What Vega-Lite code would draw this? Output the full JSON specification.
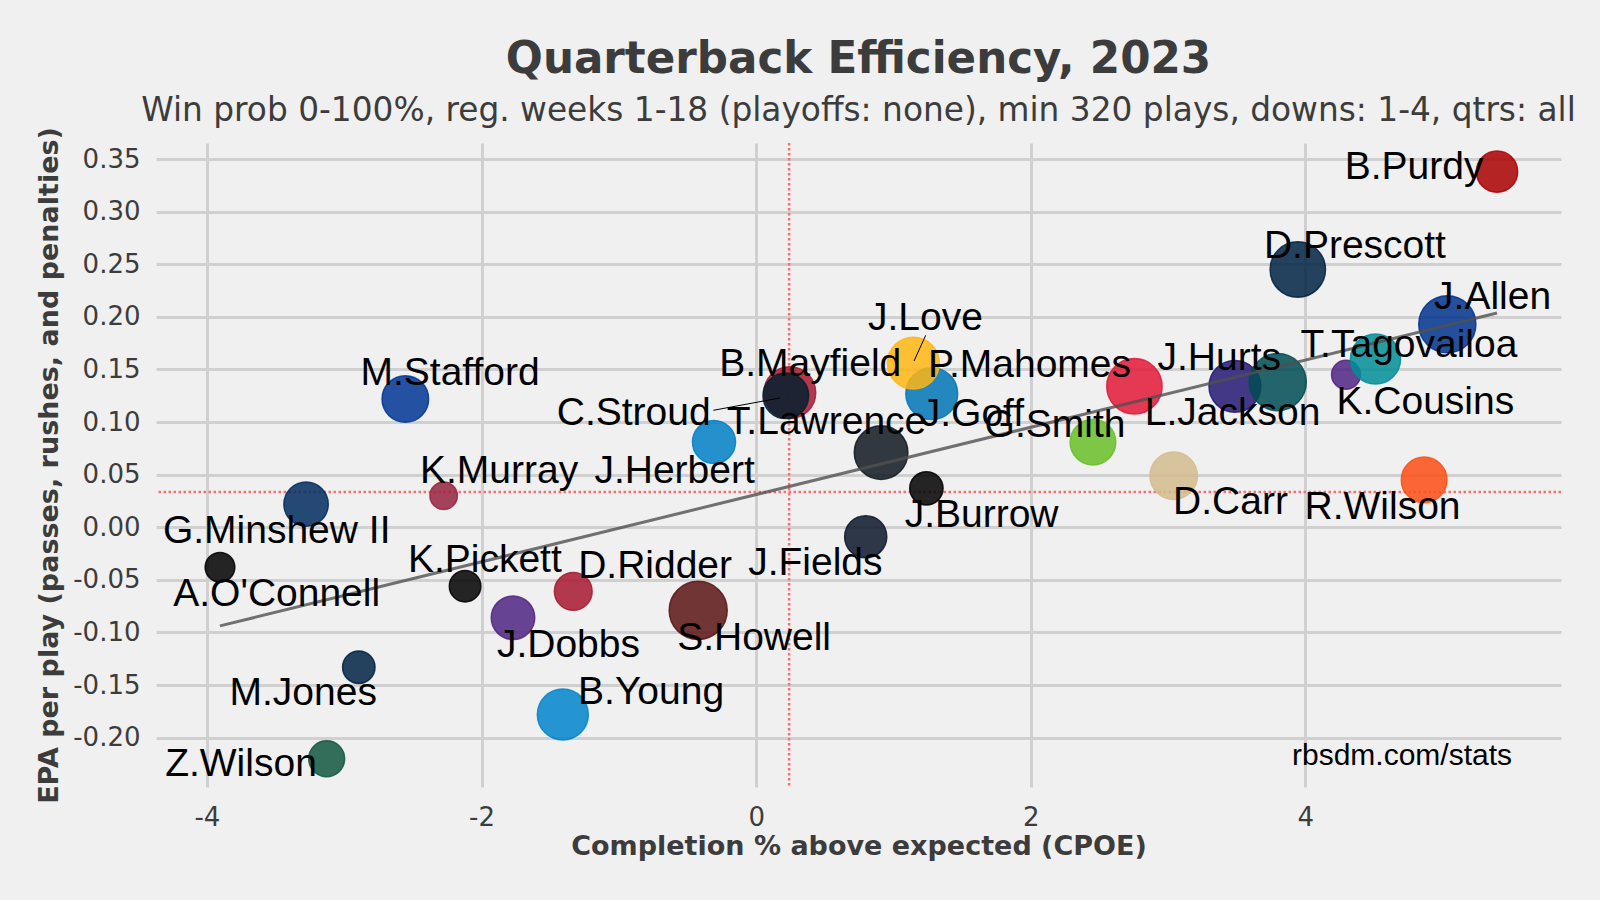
{
  "$schema": "https://vega.github.io/schema/vega-lite/v6.json",
  "width": 1405,
  "height": 644,
  "autosize": {"type": "none"},
  "padding": {"left": 156, "top": 143, "right": 39, "bottom": 113},
  "background": "#F0F0F0",
  "title": {
    "text": "Quarterback Efficiency, 2023",
    "subtitle": "Win prob 0-100%, reg. weeks 1-18 (playoffs: none), min 320 plays, downs: 1-4, qtrs: all",
    "anchor": "middle",
    "font": "DejaVu Sans",
    "fontSize": 43.6,
    "fontWeight": "bold",
    "color": "#3C3C3C",
    "subtitleFont": "DejaVu Sans",
    "subtitleFontSize": 32.8,
    "subtitleColor": "#3C3C3C",
    "subtitlePadding": 12,
    "offset": -2
  },
  "config": {
    "view": {"stroke": null},
    "axisX": {
      "grid": true, "gridColor": "#D0D0D0", "gridWidth": 3,
      "domain": false, "ticks": false,
      "labelFont": "DejaVu Sans", "labelFontSize": 26, "labelColor": "#3C3C3C", "labelPadding": 17,
      "titleFont": "DejaVu Sans", "titleFontSize": 27, "titleFontWeight": "bold", "titleColor": "#3C3C3C", "titlePadding": 3
    },
    "axisY": {
      "grid": true, "gridColor": "#D0D0D0", "gridWidth": 3,
      "domain": false, "ticks": false,
      "labelFont": "DejaVu Sans", "labelFontSize": 26, "labelColor": "#3C3C3C", "labelPadding": 16,
      "titleFont": "DejaVu Sans", "titleFontSize": 27, "titleFontWeight": "bold", "titleColor": "#3C3C3C", "titlePadding": 9
    }
  },
  "datasets": {
    "qb": [
      {"name": "A.O'Connell", "team": "LV", "cpoe": -3.905, "epa": -0.038, "plays": 340, "lx": -3.492, "ly": -0.063},
      {"name": "G.Minshew II", "team": "IND", "cpoe": -3.278, "epa": 0.022, "plays": 508, "lx": -3.492, "ly": -0.0039},
      {"name": "Z.Wilson", "team": "NYJ", "cpoe": -3.128, "epa": -0.220, "plays": 403, "lx": -3.752, "ly": -0.225},
      {"name": "M.Jones", "team": "NE", "cpoe": -2.894, "epa": -0.133, "plays": 366, "lx": -3.299, "ly": -0.158},
      {"name": "M.Stafford", "team": "LA", "cpoe": -2.555, "epa": 0.122, "plays": 539, "lx": -2.229, "ly": 0.1465},
      {"name": "K.Murray", "team": "ARI", "cpoe": -2.276, "epa": 0.030, "plays": 320, "lx": -1.872, "ly": 0.0533},
      {"name": "K.Pickett", "team": "PIT", "cpoe": -2.120, "epa": -0.056, "plays": 357, "lx": -1.976, "ly": -0.031},
      {"name": "J.Dobbs", "team": "MIN", "cpoe": -1.771, "epa": -0.086, "plays": 496, "lx": -1.367, "ly": -0.1115},
      {"name": "B.Young", "team": "CAR", "cpoe": -1.408, "epa": -0.178, "plays": 605, "lx": -0.765, "ly": -0.157},
      {"name": "D.Ridder", "team": "ATL", "cpoe": -1.332, "epa": -0.061, "plays": 424, "lx": -0.736, "ly": -0.0369},
      {"name": "S.Howell", "team": "WAS", "cpoe": -0.422, "epa": -0.079, "plays": 724, "lx": -0.015, "ly": -0.1048},
      {"name": "J.Herbert", "team": "LAC", "cpoe": -0.307, "epa": 0.081, "plays": 490, "lx": -0.594, "ly": 0.0533},
      {"name": "B.Mayfield", "team": "TB", "cpoe": 0.245, "epa": 0.128, "plays": 619, "lx": 0.394, "ly": 0.1552},
      {"name": "C.Stroud", "team": "HOU", "cpoe": 0.216, "epa": 0.125, "plays": 526, "lx": -0.892, "ly": 0.1086},
      {"name": "J.Fields", "team": "CHI", "cpoe": 0.798, "epa": -0.009, "plays": 478, "lx": 0.431, "ly": -0.034},
      {"name": "T.Lawrence", "team": "JAX", "cpoe": 0.910, "epa": 0.071, "plays": 648, "lx": 0.513, "ly": 0.0999},
      {"name": "J.Goff", "team": "DET", "cpoe": 1.279, "epa": 0.127, "plays": 619, "lx": 1.575, "ly": 0.1077},
      {"name": "J.Love", "team": "GB", "cpoe": 1.145, "epa": 0.156, "plays": 619, "lx": 1.233, "ly": 0.1988},
      {"name": "J.Burrow", "team": "CIN", "cpoe": 1.240, "epa": 0.037, "plays": 375, "lx": 1.642, "ly": 0.0116},
      {"name": "G.Smith", "team": "SEA", "cpoe": 2.453, "epa": 0.081, "plays": 526, "lx": 2.177, "ly": 0.097},
      {"name": "P.Mahomes", "team": "KC", "cpoe": 2.755, "epa": 0.134, "plays": 678, "lx": 1.991, "ly": 0.1542},
      {"name": "D.Carr", "team": "NO", "cpoe": 3.041, "epa": 0.049, "plays": 552, "lx": 3.455, "ly": 0.0242},
      {"name": "L.Jackson", "team": "BAL", "cpoe": 3.487, "epa": 0.134, "plays": 619, "lx": 3.470, "ly": 0.1086},
      {"name": "J.Hurts", "team": "PHI", "cpoe": 3.799, "epa": 0.138, "plays": 708, "lx": 3.373, "ly": 0.161},
      {"name": "D.Prescott", "team": "DAL", "cpoe": 3.945, "epa": 0.245, "plays": 678, "lx": 4.361, "ly": 0.2677},
      {"name": "K.Cousins", "team": "MIN", "cpoe": 4.296, "epa": 0.145, "plays": 332, "lx": 4.874, "ly": 0.1193},
      {"name": "T.Tagovailoa", "team": "MIA", "cpoe": 4.511, "epa": 0.160, "plays": 592, "lx": 4.755, "ly": 0.1736},
      {"name": "R.Wilson", "team": "DEN", "cpoe": 4.865, "epa": 0.045, "plays": 526, "lx": 4.562, "ly": 0.0194},
      {"name": "J.Allen", "team": "BUF", "cpoe": 5.034, "epa": 0.193, "plays": 708, "lx": 5.364, "ly": 0.2192},
      {"name": "B.Purdy", "team": "SF", "cpoe": 5.396, "epa": 0.338, "plays": 467, "lx": 4.792, "ly": 0.3424}
    ],
    "means": [{"mean_cpoe": 0.24, "mean_epa": 0.0335}],
    "leaders": [
      {"name": "C.Stroud", "x1": -0.312, "y1": 0.1112, "x2": 0.174, "y2": 0.1229},
      {"name": "J.Love", "x1": 1.235, "y1": 0.1825, "x2": 1.150, "y2": 0.1581}
    ],
    "credit": [{"text": "rbsdm.com/stats", "cx": 4.704, "cy": -0.2177}]
  },
  "layer": [
    {
      "data": {"name": "means"},
      "mark": {"type": "rule", "color": "#FA6E6E", "strokeWidth": 2.5, "strokeDash": [2.5, 2.5]},
      "encoding": {
        "y": {"field": "mean_epa", "type": "quantitative", "title": "EPA per play (passes, rushes, and penalties)",
              "scale": {"domain": [-0.2469, 0.3653], "nice": false, "zero": false},
              "axis": {"values": [-0.2, -0.15, -0.1, -0.05, 0, 0.05, 0.1, 0.15, 0.2, 0.25, 0.3, 0.35],
                       "labelExpr": "replace(format(datum.value, '.2f'), '\u2212', '-')"}}
      }
    },
    {
      "data": {"name": "means"},
      "mark": {"type": "rule", "color": "#FA6E6E", "strokeWidth": 2.5, "strokeDash": [2.5, 2.5]},
      "encoding": {
        "x": {"field": "mean_cpoe", "type": "quantitative", "title": "Completion % above expected (CPOE)",
              "scale": {"domain": [-4.371, 5.862], "nice": false, "zero": false},
              "axis": {"values": [-4, -2, 0, 2, 4],
                       "labelExpr": "replace(format(datum.value, 'd'), '\u2212', '-')"}}
      }
    },
    {
      "data": {"name": "qb"},
      "mark": {"type": "circle", "strokeWidth": 1.5, "fillOpacity": 0.85, "strokeOpacity": 0.85},
      "encoding": {
        "x": {"field": "cpoe", "type": "quantitative", "title": "Completion % above expected (CPOE)"},
        "y": {"field": "epa", "type": "quantitative", "title": "EPA per play (passes, rushes, and penalties)"},
        "size": {"field": "plays", "type": "quantitative", "legend": null,
                 "scale": {"domain": [320, 724], "range": [754, 3368], "zero": false}},
        "fill": {"field": "team", "type": "nominal", "legend": null,
                 "scale": {"domain": ["SF","DAL","BUF","MIA","MIN","PHI","BAL","KC","SEA","NO","DEN","CIN","DET","GB","TB","HOU","JAX","LAC","CHI","LA","ARI","IND","LV","PIT","ATL","WAS","NE","CAR","NYJ"],
                           "range": ["#AA0000","#002244","#00338D","#008E97","#4F2683","#004C54","#241773","#E31837","#69BE28","#D3BC8D","#FB4F14","#000000","#0076B6","#FFB612","#A71930","#03202F","#101820","#0080C6","#0B162A","#003594","#97233F","#002C5F","#000000","#000000","#A71930","#5A1414","#002244","#0085CA","#125740"]}},
        "stroke": {"field": "team", "type": "nominal", "legend": null,
                 "scale": {"domain": ["SF","DAL","BUF","MIA","MIN","PHI","BAL","KC","SEA","NO","DEN","CIN","DET","GB","TB","HOU","JAX","LAC","CHI","LA","ARI","IND","LV","PIT","ATL","WAS","NE","CAR","NYJ"],
                           "range": ["#AA0000","#002244","#00338D","#008E97","#4F2683","#004C54","#241773","#E31837","#69BE28","#D3BC8D","#FB4F14","#000000","#0076B6","#FFB612","#A71930","#03202F","#101820","#0080C6","#0B162A","#003594","#97233F","#002C5F","#000000","#000000","#A71930","#5A1414","#002244","#0085CA","#125740"]}}
      }
    },
    {
      "data": {"name": "qb"},
      "transform": [{"regression": "epa", "on": "cpoe"}],
      "mark": {"type": "line", "color": "#505050", "opacity": 0.8, "strokeWidth": 3},
      "encoding": {
        "x": {"field": "cpoe", "type": "quantitative", "title": "Completion % above expected (CPOE)"},
        "y": {"field": "epa", "type": "quantitative", "title": "EPA per play (passes, rushes, and penalties)"}
      }
    },
    {
      "data": {"name": "leaders"},
      "mark": {"type": "rule", "color": "#000000", "strokeWidth": 1},
      "encoding": {
        "x": {"field": "x1", "type": "quantitative", "title": "Completion % above expected (CPOE)"},
        "y": {"field": "y1", "type": "quantitative", "title": "EPA per play (passes, rushes, and penalties)"},
        "x2": {"field": "x2"},
        "y2": {"field": "y2"}
      }
    },
    {
      "data": {"name": "qb"},
      "mark": {"type": "text", "font": "Liberation Sans", "fontSize": 39, "color": "#000000", "align": "center", "baseline": "middle"},
      "encoding": {
        "x": {"field": "lx", "type": "quantitative", "title": "Completion % above expected (CPOE)"},
        "y": {"field": "ly", "type": "quantitative", "title": "EPA per play (passes, rushes, and penalties)"},
        "text": {"field": "name"}
      }
    },
    {
      "data": {"name": "credit"},
      "mark": {"type": "text", "font": "Liberation Sans", "fontSize": 30, "color": "#000000", "align": "center", "baseline": "middle"},
      "encoding": {
        "x": {"field": "cx", "type": "quantitative", "title": "Completion % above expected (CPOE)"},
        "y": {"field": "cy", "type": "quantitative", "title": "EPA per play (passes, rushes, and penalties)"},
        "text": {"field": "text"}
      }
    }
  ]
}
